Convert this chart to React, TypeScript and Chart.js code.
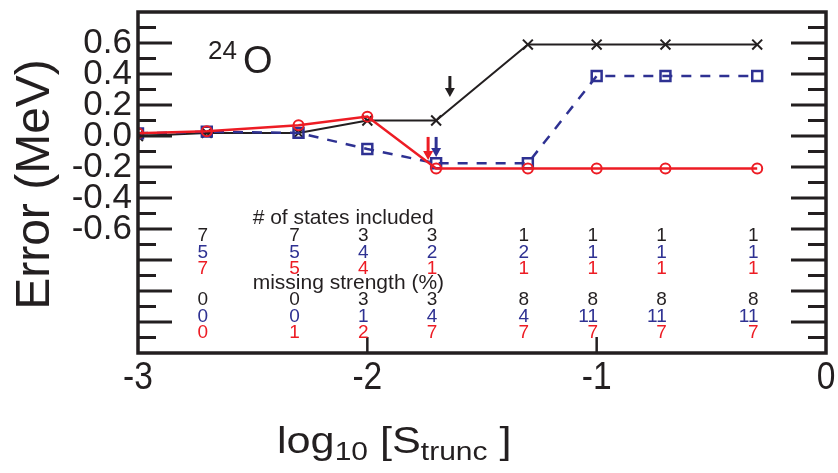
import React, { useEffect, useRef } from 'react';
import { Chart, registerables } from 'chart.js';

Chart.register(...registerables);

// ---- data ----
const xValues = [-3, -2.7, -2.3, -2, -1.7, -1.3, -1, -0.7, -0.3];
const blackErr = [0.0, 0.02, 0.02, 0.1, 0.1, 0.59, 0.59, 0.59, 0.59];
const blueErr = [0.017, 0.028, 0.02, -0.084, -0.176, -0.176, 0.387, 0.387, 0.387];
const redErr = [0.017, 0.03, 0.07, 0.125, -0.21, -0.21, -0.21, -0.21, -0.21];

const xTickValues = [-3, -2, -1, 0];
const xTickLabels = ['-3', '-2', '-1', '0'];
const yTickValues = [0.6, 0.4, 0.2, 0, -0.2, -0.4, -0.6];
const yTickLabels = ['0.6', '0.4', '0.2', '0.0', '-0.2', '-0.4', '-0.6'];

const columnX = [-2.7, -2.3, -2, -1.7, -1.3, -1, -0.7, -0.3];
const statesBlack = ['7', '7', '3', '3', '1', '1', '1', '1'];
const statesBlue = ['5', '5', '4', '2', '2', '1', '1', '1'];
const statesRed = ['7', '5', '4', '1', '1', '1', '1', '1'];
const missingBlack = ['0', '0', '3', '3', '8', '8', '8', '8'];
const missingBlue = ['0', '0', '1', '4', '4', '11', '11', '11'];
const missingRed = ['0', '1', '2', '7', '7', '7', '7', '7'];

// arrows: [x, yStart, yEnd]
const arrowBlack = [-1.64, 0.387, 0.252];
const arrowRed = [-1.735, -0.006, -0.155];
const arrowBlue = [-1.70, -0.006, -0.135];

const BLACK = '#231f20';
const BLUE = '#2e3192';
const RED = '#ed1c24';
const FONT = "'Liberation Sans', Arial, Helvetica, sans-serif";

function drawArrow(ctx: CanvasRenderingContext2D, x: number, y0: number, y1: number, color: string) {
  ctx.save();
  ctx.strokeStyle = color;
  ctx.fillStyle = color;
  ctx.lineWidth = 3;
  ctx.setLineDash([]);
  ctx.beginPath();
  ctx.moveTo(x, y0);
  ctx.lineTo(x, y1 - 8);
  ctx.stroke();
  ctx.beginPath();
  ctx.moveTo(x - 5, y1 - 9);
  ctx.lineTo(x + 5, y1 - 9);
  ctx.lineTo(x, y1);
  ctx.closePath();
  ctx.fill();
  ctx.restore();
}

const decorPlugin = {
  id: 'decor',
  afterDatasetsDraw(chart: any) {
    const ctx: CanvasRenderingContext2D = chart.ctx;
    const { left, right, top, bottom } = chart.chartArea;
    const xs = chart.scales.x;
    const ys = chart.scales.y;
    ctx.save();
    ctx.setLineDash([]);

    // frame
    ctx.strokeStyle = BLACK;
    ctx.lineWidth = 3.5;
    ctx.strokeRect(left, top, right - left, bottom - top);

    // y ticks (both sides, inward)
    ctx.lineWidth = 3;
    for (let i = -13; i <= 7; i++) {
      const v = i / 10;
      const py = ys.getPixelForValue(v);
      const long = Math.abs(i) % 2 === 0;
      ctx.beginPath();
      ctx.moveTo(left, py);
      ctx.lineTo(left + (long ? 34 : 18), py);
      ctx.moveTo(right, py);
      ctx.lineTo(right - (long ? 35 : 18), py);
      ctx.stroke();
    }
    // x ticks (bottom, inward)
    ctx.lineWidth = 2.5;
    [-2, -1].forEach((v) => {
      const px = xs.getPixelForValue(v);
      ctx.beginPath();
      ctx.moveTo(px, bottom);
      ctx.lineTo(px, bottom - 16);
      ctx.stroke();
    });

    // y tick labels
    ctx.fillStyle = BLACK;
    ctx.font = `35px ${FONT}`;
    ctx.textAlign = 'right';
    ctx.textBaseline = 'alphabetic';
    yTickValues.forEach((v, i) => {
      ctx.fillText(yTickLabels[i], left - 6, ys.getPixelForValue(v) + 10);
    });

    // x tick labels (slightly condensed)
    ctx.font = `39px ${FONT}`;
    ctx.textAlign = 'center';
    xTickValues.forEach((v, i) => {
      ctx.save();
      ctx.translate(xs.getPixelForValue(v), bottom + 36);
      ctx.scale(0.86, 1);
      ctx.fillText(xTickLabels[i], 0, 0);
      ctx.restore();
    });

    // y title
    ctx.save();
    ctx.translate(49, (top + bottom) / 2 + 2);
    ctx.rotate(-Math.PI / 2);
    ctx.font = `48px ${FONT}`;
    ctx.textAlign = 'center';
    ctx.fillText('Error (MeV)', 0, 0);
    ctx.restore();

    // x title: log10 [Strunc ]
    ctx.save();
    ctx.textAlign = 'left';
    ctx.translate(277, bottom + 100);
    ctx.scale(1.2, 1);
    let cx = 0;
    const parts: [string, number, number][] = [
      ['log', 36, 0],
      ['10', 25, 7],
      [' [', 36, 0],
      ['S', 36, 0],
      ['trunc', 25, 7],
      [' ]', 36, 0],
    ];
    parts.forEach(([t, size, dy]) => {
      ctx.font = `${size}px ${FONT}`;
      ctx.fillText(t, cx, dy);
      cx += ctx.measureText(t).width;
    });
    ctx.restore();

    // 24O label
    ctx.textAlign = 'left';
    ctx.font = `26px ${FONT}`;
    ctx.fillText('24', left + 70, top + 47);
    ctx.font = `38px ${FONT}`;
    ctx.fillText('O', left + 105, top + 61);

    // table annotations
    ctx.font = `21px ${FONT}`;
    ctx.fillStyle = BLACK;
    ctx.fillText('# of states included', xs.getPixelForValue(-2.5), ys.getPixelForValue(-0.565));
    ctx.fillText('missing strength (%)', xs.getPixelForValue(-2.5), ys.getPixelForValue(-0.99));

    const rows: [string[], string, number][] = [
      [statesBlack, BLACK, -0.68],
      [statesBlue, BLUE, -0.785],
      [statesRed, RED, -0.89],
      [missingBlack, BLACK, -1.093],
      [missingBlue, BLUE, -1.197],
      [missingRed, RED, -1.30],
    ];
    ctx.font = `19px ${FONT}`;
    ctx.textAlign = 'right';
    rows.forEach(([labels, color, yv]) => {
      ctx.fillStyle = color;
      const py = ys.getPixelForValue(yv);
      labels.forEach((lab, i) => {
        const px = xs.getPixelForValue(columnX[i]) - 4;
        ctx.fillText(lab, px + 5.3, py);
      });
    });

    // arrows
    const arrows: [number[], string][] = [
      [arrowBlack, BLACK],
      [arrowRed, RED],
      [arrowBlue, BLUE],
    ];
    arrows.forEach(([a, color]) => {
      drawArrow(ctx, xs.getPixelForValue(a[0]), ys.getPixelForValue(a[1]), ys.getPixelForValue(a[2]), color);
    });

    ctx.restore();
  },
};

export default function App() {
  const canvasRef = useRef<HTMLCanvasElement | null>(null);

  useEffect(() => {
    const canvas = canvasRef.current;
    if (!canvas) return;
    const toPts = (ys: number[]) => xValues.map((x, i) => ({ x, y: ys[i] }));
    const chart = new Chart(canvas, {
      type: 'line',
      data: {
        datasets: [
          {
            label: 'red',
            data: toPts(redErr),
            borderColor: RED,
            borderWidth: 2.5,
            pointStyle: 'circle',
            pointRadius: 5,
            pointBorderWidth: 2,
            pointBorderColor: RED,
            pointBackgroundColor: 'rgba(0,0,0,0)',
            backgroundColor: 'rgba(0,0,0,0)',
            fill: false,
            tension: 0,
          },
          {
            label: 'blue',
            data: toPts(blueErr),
            borderColor: BLUE,
            borderWidth: 2.5,
            borderDash: [10, 9],
            pointStyle: 'rect',
            pointRadius: 7,
            pointBorderWidth: 2.5,
            pointBorderColor: BLUE,
            pointBackgroundColor: 'rgba(0,0,0,0)',
            backgroundColor: 'rgba(0,0,0,0)',
            fill: false,
            tension: 0,
          },
          {
            label: 'black',
            data: toPts(blackErr),
            borderColor: BLACK,
            borderWidth: 2,
            pointStyle: 'crossRot',
            pointRadius: 7,
            pointBorderWidth: 2,
            pointBorderColor: BLACK,
            backgroundColor: 'rgba(0,0,0,0)',
            fill: false,
            tension: 0,
          },
        ],
      },
      options: {
        animation: false,
        responsive: false,
        devicePixelRatio: 1,
        layout: { padding: { left: 138, right: 12, top: 12, bottom: 120 } },
        scales: {
          x: { type: 'linear', min: -3, max: 0, display: false },
          y: { type: 'linear', min: -1.4, max: 0.8, display: false },
        },
        plugins: { legend: { display: false }, tooltip: { enabled: false } },
        events: [],
      },
      plugins: [decorPlugin],
    } as any);
    return () => chart.destroy();
  }, []);

  return (
    <div style={{ position: 'fixed', left: 0, top: 0, width: 838, height: 473, background: '#fff' }}>
      <canvas ref={canvasRef} width={838} height={473} style={{ display: 'block' }} />
    </div>
  );
}
